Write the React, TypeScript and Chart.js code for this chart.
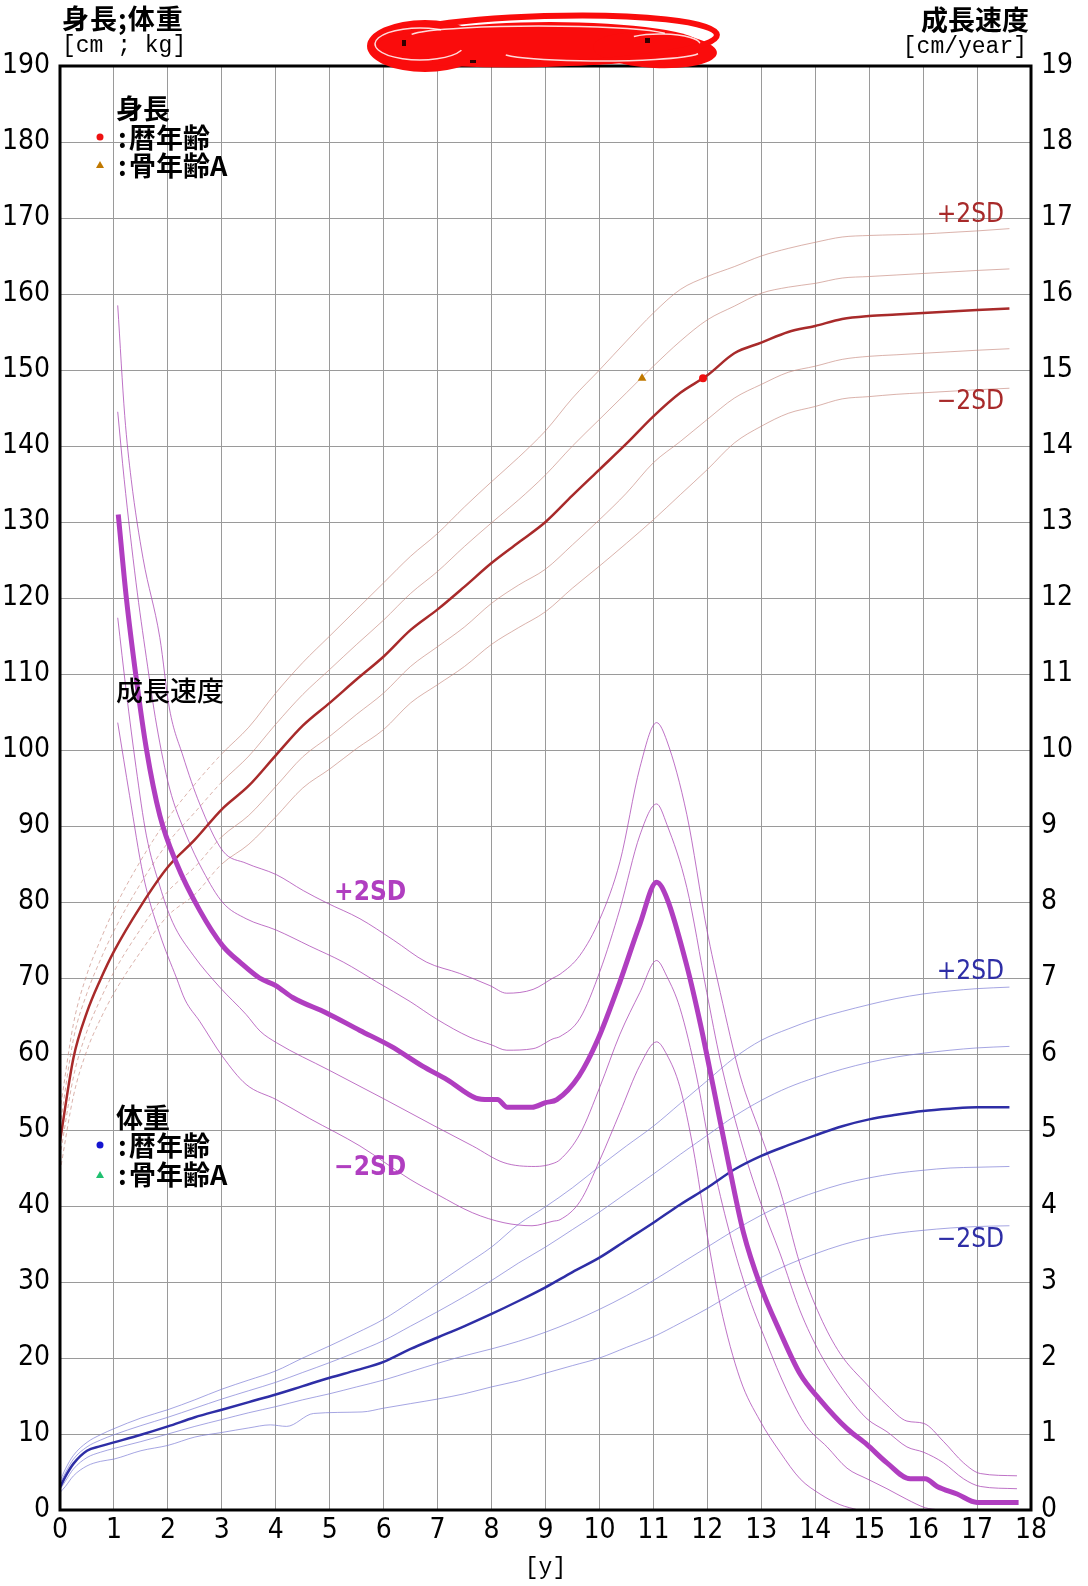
import React, { useEffect, useRef } from "react";
import { Chart, registerables } from "chart.js";

Chart.register(...registerables);

// ---------- Height (cm), left axis ----------
const hAges = [0, 0.25, 0.5, 0.75, 1, 1.5, 2, 2.5, 3, 3.5, 4, 4.5, 5, 5.5, 6, 6.5, 7, 7.5, 8, 8.5, 9, 9.5, 10, 10.5, 11, 11.5, 12, 12.5, 13, 13.5, 14, 14.5, 15, 15.5, 16, 16.5, 17, 17.6];
const hMean = [48.5, 59.5, 65.5, 69.8, 73.5, 79.5, 84.6, 88.2, 92.2, 95.3, 99.3, 103.2, 106.2, 109.3, 112.3, 115.8, 118.5, 121.5, 124.6, 127.3, 130.0, 133.5, 136.9, 140.3, 143.9, 147.0, 149.3, 152.2, 153.6, 155.0, 155.8, 156.7, 157.1, 157.3, 157.5, 157.7, 157.9, 158.1];
const hP2 = [52.5, 64, 70.5, 75, 79, 85.5, 91, 95.5, 99.5, 103, 107.5, 111.5, 115, 118.5, 122, 125.5, 128.5, 132, 135.3, 138.5, 142, 146.3, 150, 153.8, 157.5, 160.6, 162.3, 163.6, 165, 166, 166.8, 167.5, 167.7, 167.8, 167.9, 168.1, 168.3, 168.6];
const hP1 = [50.5, 62, 68, 72.4, 76.2, 82.5, 87.8, 91.8, 95.8, 99.2, 103.4, 107.3, 110.6, 113.9, 117.1, 120.6, 123.5, 126.8, 129.9, 132.9, 136.2, 140.0, 143.5, 147.0, 150.5, 153.8, 156.6, 158.4, 160.1, 160.9, 161.4, 162.1, 162.3, 162.5, 162.7, 162.9, 163.1, 163.3];
const hM1 = [46.5, 57, 63, 67.2, 70.8, 76.5, 81.4, 84.6, 88.6, 91.4, 95.2, 99.1, 101.8, 104.7, 107.5, 111, 113.6, 116.2, 119.3, 121.7, 123.8, 127, 130.3, 133.8, 137.8, 140.6, 143.5, 146.3, 148.1, 149.7, 150.5, 151.4, 151.8, 152.0, 152.2, 152.4, 152.6, 152.8];
const hM2 = [44.5, 54.5, 60.5, 64.6, 68, 73.5, 78.2, 81, 85, 87.6, 91.2, 95, 97.5, 100.2, 102.7, 106.2, 108.6, 111, 113.9, 116.1, 118.2, 121.3, 124.2, 127.2, 130.3, 133.6, 136.9, 140.4, 142.6, 144.3, 145.2, 146.2, 146.5, 146.8, 147.0, 147.2, 147.4, 147.6];

// measured points (height)
const chronoAge = [11.92];
const chronoHeight = [148.9];
const boneAge = [10.79];
const boneHeight = [148.9];

// ---------- Weight (kg), left axis ----------
const wAges = [0, 0.1, 0.25, 0.5, 0.75, 1, 1.5, 2, 2.5, 3, 3.5, 4, 4.5, 5, 5.5, 6, 6.5, 7, 7.5, 8, 8.5, 9, 9.5, 10, 10.5, 11, 11.5, 12, 12.5, 13, 13.5, 14, 14.5, 15, 15.5, 16, 16.5, 17, 17.6];
const wMean = [3.0, 4.4, 6.1, 7.8, 8.4, 8.9, 9.9, 11.0, 12.2, 13.2, 14.2, 15.2, 16.3, 17.4, 18.4, 19.5, 21.2, 22.7, 24.2, 25.8, 27.5, 29.3, 31.3, 33.2, 35.5, 37.8, 40.2, 42.4, 44.8, 46.6, 48.0, 49.3, 50.5, 51.4, 52.0, 52.5, 52.8, 53.0, 53.0];
const wP2 = [3.8, 5.4, 7.2, 8.9, 9.9, 10.7, 12.1, 13.2, 14.5, 15.9, 17.1, 18.3, 20.0, 21.6, 23.3, 25.1, 27.4, 29.8, 32.2, 34.6, 37.6, 39.9, 42.4, 45.2, 47.9, 50.5, 53.5, 56.5, 59.5, 61.8, 63.3, 64.6, 65.6, 66.5, 67.3, 67.9, 68.3, 68.6, 68.8];
const wP1 = [3.5, 4.9, 6.7, 8.3, 9.2, 9.9, 11.1, 12.2, 13.4, 14.6, 15.7, 16.8, 18.1, 19.4, 20.8, 22.3, 24.2, 26.1, 28.1, 30.2, 32.5, 34.6, 36.9, 39.2, 41.7, 44.2, 46.8, 49.3, 51.8, 53.9, 55.6, 56.9, 58.0, 58.9, 59.6, 60.1, 60.5, 60.8, 61.0];
const wM1 = [2.7, 3.8, 5.4, 6.9, 7.6, 8.1, 9.0, 10.0, 11.0, 11.9, 12.8, 13.6, 14.5, 15.3, 16.2, 17.1, 18.2, 19.3, 20.3, 21.2, 22.2, 23.4, 24.8, 26.4, 28.2, 30.2, 32.4, 34.6, 36.8, 38.8, 40.5, 41.8, 42.9, 43.7, 44.3, 44.7, 45.0, 45.1, 45.2];
const wM2Ages = [0, 0.1, 0.25, 0.5, 0.75, 1, 1.5, 2, 2.5, 3, 3.5, 3.9, 4.2, 4.7, 5.6, 6, 6.5, 7, 7.5, 8, 8.5, 9, 9.5, 10, 10.5, 11, 11.5, 12, 12.5, 13, 13.5, 14, 14.5, 15, 15.5, 16, 16.5, 17, 17.6];
const wM2 = [2.3, 3.1, 4.5, 5.8, 6.4, 6.7, 7.8, 8.5, 9.6, 10.2, 10.8, 11.2, 11.0, 12.7, 12.9, 13.4, 14.0, 14.6, 15.3, 16.2, 17.0, 18.0, 19.0, 20.0, 21.4, 22.8, 24.6, 26.5, 28.6, 30.6, 32.3, 33.7, 34.9, 35.8, 36.4, 36.8, 37.1, 37.3, 37.4];

// ---------- Growth velocity (cm/year), right axis ----------
const vMeanAges = [1.08, 1.23, 1.41, 1.6, 1.85, 2.16, 2.59, 3.02, 3.35, 3.7, 4.0, 4.32, 4.94, 5.56, 6.14, 6.72, 7.18, 7.71, 7.95, 8.11, 8.29, 8.75, 9.0, 9.21, 9.62, 9.97, 10.38, 10.75, 11.06, 11.25, 11.62, 11.87, 12.11, 12.42, 12.67, 12.98, 13.35, 13.72, 14.09, 14.59, 14.96, 15.33, 15.76, 16.04, 16.26, 16.63, 17.0, 17.77];
const vMean = [13.1, 12.0, 10.96, 10.02, 9.14, 8.51, 7.89, 7.42, 7.2, 7.0, 6.9, 6.74, 6.54, 6.31, 6.1, 5.84, 5.66, 5.42, 5.4, 5.4, 5.3, 5.3, 5.36, 5.4, 5.71, 6.19, 6.95, 7.71, 8.26, 8.05, 7.16, 6.4, 5.57, 4.47, 3.65, 2.96, 2.34, 1.79, 1.45, 1.07, 0.86, 0.62, 0.41, 0.41, 0.31, 0.21, 0.1, 0.1];
const vP2Ages = [1.07, 1.2, 1.32, 1.54, 1.85, 2.03, 2.28, 2.59, 3.02, 3.45, 4.01, 4.51, 4.94, 5.56, 6.18, 6.79, 7.41, 7.97, 8.28, 8.77, 9.14, 9.27, 9.64, 10.01, 10.38, 10.75, 11.06, 11.25, 11.62, 11.99, 12.24, 12.61, 12.98, 13.35, 13.72, 14.09, 14.46, 14.96, 15.33, 15.7, 16.01, 16.38, 16.75, 17.06, 17.74];
const vP2 = [15.85, 14.4, 13.56, 12.52, 11.48, 10.54, 9.92, 9.29, 8.67, 8.51, 8.36, 8.15, 7.99, 7.78, 7.5, 7.21, 7.06, 6.9, 6.8, 6.85, 7.0, 7.05, 7.3, 7.78, 8.53, 9.77, 10.36, 10.12, 9.15, 7.64, 6.81, 5.71, 4.96, 4.2, 3.23, 2.55, 2.06, 1.65, 1.38, 1.17, 1.14, 0.9, 0.62, 0.48, 0.45];
const vP1Ages = [1.07, 1.19, 1.41, 1.6, 1.79, 2.03, 2.34, 2.65, 3.02, 3.45, 4.01, 4.63, 5.25, 5.87, 6.49, 6.98, 7.6, 8.0, 8.28, 8.77, 9.14, 9.27, 9.64, 10.01, 10.38, 10.75, 11.06, 11.25, 11.62, 11.99, 12.24, 12.61, 12.98, 13.35, 13.72, 14.09, 14.59, 14.96, 15.33, 15.7, 16.01, 16.38, 16.75, 17.06, 17.74];
const vP1 = [14.45, 13.56, 12.2, 11.22, 10.33, 9.5, 8.88, 8.41, 7.99, 7.78, 7.63, 7.42, 7.21, 6.95, 6.69, 6.46, 6.22, 6.12, 6.05, 6.07, 6.2, 6.23, 6.47, 7.09, 7.91, 8.88, 9.29, 9.02, 8.19, 6.81, 5.92, 4.89, 4.06, 3.37, 2.62, 2.06, 1.51, 1.2, 1.03, 0.83, 0.76, 0.62, 0.41, 0.31, 0.28];
const vM1Ages = [1.07, 1.23, 1.41, 1.6, 1.85, 2.09, 2.47, 2.96, 3.45, 3.71, 4.01, 4.98, 6.03, 6.95, 7.65, 8.23, 8.81, 9.14, 9.27, 9.64, 10.01, 10.38, 10.75, 11.06, 11.25, 11.49, 11.8, 12.05, 12.36, 12.73, 13.1, 13.47, 13.84, 14.22, 14.59, 14.96, 15.33, 15.7, 16.04, 16.3];
const vM1 = [11.74, 10.76, 9.77, 8.88, 8.21, 7.73, 7.3, 6.88, 6.52, 6.3, 6.15, 5.79, 5.4, 5.05, 4.79, 4.57, 4.52, 4.56, 4.61, 4.95, 5.57, 6.26, 6.81, 7.23, 7.02, 6.61, 5.71, 4.75, 3.79, 2.89, 2.2, 1.58, 1.1, 0.83, 0.55, 0.41, 0.28, 0.14, 0.03, 0.0];
const vM2Ages = [1.07, 1.29, 1.54, 1.85, 2.16, 2.32, 2.59, 3.01, 3.45, 4.01, 4.63, 5.56, 6.49, 7.0, 7.65, 8.23, 8.75, 9.14, 9.27, 9.64, 10.01, 10.38, 10.75, 11.06, 11.25, 11.49, 11.74, 11.99, 12.24, 12.61, 12.98, 13.35, 13.72, 14.09, 14.46, 14.8];
const vM2 = [10.36, 9.4, 8.36, 7.58, 7.0, 6.71, 6.43, 5.97, 5.6, 5.4, 5.15, 4.79, 4.35, 4.15, 3.91, 3.78, 3.74, 3.8, 3.82, 4.06, 4.61, 5.23, 5.85, 6.16, 5.99, 5.57, 4.75, 3.65, 2.69, 1.72, 1.17, 0.76, 0.41, 0.21, 0.07, 0.0];

// ---------- Axes ----------
const xTickStep = 1;
const leftMax = 190;
const leftStep = 10;
const rightMax = 19;
const rightStep = 1;
const xMax = 18;

const toPts = (xs: number[], ys: number[]) => xs.map((x, i) => ({ x, y: ys[i] }));

const NUM_FONT = "'Liberation Sans Narrow', 'DejaVu Sans Condensed', 'Liberation Sans', sans-serif";
const JP_FONT = "'Noto Sans CJK JP', 'Noto Sans CJK SC', sans-serif";
const MONO_FONT = "'Liberation Mono', 'DejaVu Sans Mono', monospace";

const C_H = "#a82a2a";
const C_W = "#2e2ea6";
const C_V = "#b03ec0";

const overlayPlugin = {
  id: "overlay",
  afterDraw(chart: any) {
    const { ctx, chartArea, scales } = chart;
    const xs = scales.x;
    const yl = scales.y;
    const yr = scales.y2;
    ctx.save();
    // frame
    ctx.strokeStyle = "#000";
    ctx.lineWidth = 3;
    ctx.strokeRect(chartArea.left, chartArea.top, chartArea.right - chartArea.left, chartArea.bottom - chartArea.top);

    // redaction scribble
    ctx.fillStyle = "rgb(250,12,12)";
    ctx.beginPath();
    ctx.ellipse(425, 46, 58, 26, 0, 0, Math.PI * 2);
    ctx.fill();
    ctx.beginPath();
    ctx.ellipse(550, 44, 150, 22, 0, 0, Math.PI * 2);
    ctx.fill();
    ctx.beginPath();
    ctx.ellipse(655, 50, 62, 18, 0.05, 0, Math.PI * 2);
    ctx.fill();
    ctx.strokeStyle = "rgb(250,12,12)";
    ctx.lineWidth = 6;
    ctx.beginPath();
    ctx.ellipse(545, 40, 172, 24, -0.03, 0, Math.PI * 2);
    ctx.stroke();
    ctx.strokeStyle = "rgba(255,255,255,0.85)";
    ctx.lineWidth = 1.5;
    for (const [cx, cy, rx, ry, a0, a1] of [
      [420, 44, 45, 16, 0.4, 5.2],
      [540, 36, 130, 10, 3.3, 6.0],
      [600, 52, 100, 9, 0.2, 2.8],
      [660, 44, 40, 10, 4.0, 6.2],
    ]) {
      ctx.beginPath();
      ctx.ellipse(cx, cy, rx, ry, 0, a0, a1);
      ctx.stroke();
    }
    ctx.fillStyle = "#300";
    ctx.fillRect(402, 40, 4, 6);
    ctx.fillRect(470, 60, 6, 3);
    ctx.fillRect(645, 38, 5, 5);

    // titles
    ctx.fillStyle = "#000";
    ctx.textBaseline = "middle";
    ctx.textAlign = "left";
    ctx.font = `bold 27px ${JP_FONT}`;
    ctx.letterSpacing = "1px";
    ctx.fillText("身長;体重", 62, 19);
    ctx.letterSpacing = "0px";
    ctx.font = `23px ${MONO_FONT}`;
    ctx.fillText("[cm ; kg]", 62, 46);
    ctx.textAlign = "right";
    ctx.font = `bold 27px ${JP_FONT}`;
    ctx.fillText("成長速度", 1029, 20);
    ctx.font = `23px ${MONO_FONT}`;
    ctx.fillText("[cm/year]", 1027, 47);

    // legends inside plot
    ctx.textAlign = "left";
    const leg = (x: number, y: number, s: string) => {
      ctx.fillText(":", x + 2, y);
      ctx.fillText(s, x + 13, y);
    };
    ctx.font = `bold 27px ${JP_FONT}`;
    ctx.fillText("身長", 116, 109);
    leg(116, 138, "暦年齢");
    leg(116, 166, "骨年齢A");
    ctx.fillText("体重", 116, 1118);
    leg(116, 1146, "暦年齢");
    leg(116, 1175, "骨年齢A");
    ctx.font = `500 27px ${JP_FONT}`;
    ctx.fillText("成長速度", 116, 691);

    const dot = (x: number, y: number, c: string) => {
      ctx.fillStyle = c;
      ctx.beginPath();
      ctx.arc(x, y, 3.5, 0, Math.PI * 2);
      ctx.fill();
    };
    const tri = (x: number, y: number, c: string) => {
      ctx.fillStyle = c;
      ctx.beginPath();
      ctx.moveTo(x, y - 4);
      ctx.lineTo(x + 4, y + 3);
      ctx.lineTo(x - 4, y + 3);
      ctx.closePath();
      ctx.fill();
    };
    dot(100, 137, "#ee1111");
    tri(100, 165, "#c07800");
    dot(100, 1145, "#1515d0");
    tri(100, 1175, "#20c070");

    // SD labels
    ctx.font = `26px ${NUM_FONT}`;
    ctx.textAlign = "right";
    ctx.fillStyle = C_H;
    ctx.fillText("+2SD", xs.getPixelForValue(17.5), yl.getPixelForValue(170.4));
    ctx.fillText("−2SD", xs.getPixelForValue(17.5), yl.getPixelForValue(145.7));
    ctx.fillStyle = C_W;
    ctx.fillText("+2SD", xs.getPixelForValue(17.5), yl.getPixelForValue(70.7));
    ctx.fillText("−2SD", xs.getPixelForValue(17.5), yl.getPixelForValue(35.5));
    ctx.textAlign = "left";
    ctx.fillStyle = C_V;
    ctx.font = `bold 26px ${NUM_FONT}`;
    ctx.fillText("+2SD", xs.getPixelForValue(5.08), yr.getPixelForValue(8.12));
    ctx.fillText("−2SD", xs.getPixelForValue(5.08), yr.getPixelForValue(4.5));
    ctx.restore();
  },
};

const thin = (label: string, data: any[], color: string, axis: string, extra: any = {}) => ({
  label,
  data,
  yAxisID: axis,
  borderColor: color,
  borderWidth: 0.9,
  pointRadius: 0,
  fill: false,
  cubicInterpolationMode: "monotone",
  ...extra,
});

export default function App() {
  const ref = useRef<HTMLCanvasElement | null>(null);
  useEffect(() => {
    if (!ref.current) return;
    const dashEarly = { segment: { borderDash: (c: any) => (c.p0.parsed.x < 3 ? [4, 3] : undefined) } };
    const hSD = "rgba(200,140,130,0.75)";
    const wSD = "rgba(130,130,215,0.8)";
    const vSD = "rgba(170,70,180,0.85)";
    const chart = new Chart(ref.current, {
      type: "line",
      data: {
        datasets: [
          {
            label: "暦年齢",
            data: toPts(chronoAge, chronoHeight),
            yAxisID: "y",
            showLine: false,
            pointRadius: 4,
            pointStyle: "circle",
            pointBackgroundColor: "#ee1111",
            pointBorderWidth: 0,
            borderColor: "#ee1111",
          } as any,
          {
            label: "骨年齢A",
            data: toPts(boneAge, boneHeight),
            yAxisID: "y",
            showLine: false,
            pointRadius: 5,
            pointStyle: "triangle",
            pointBackgroundColor: "#c07800",
            pointBorderWidth: 0,
            borderColor: "#c07800",
          } as any,
          { ...thin("成長速度", toPts(vMeanAges, vMean), C_V, "y2"), borderWidth: 5 },
          { ...thin("身長", toPts(hAges, hMean), C_H, "y"), borderWidth: 2.5 },
          { ...thin("体重", toPts(wAges, wMean), C_W, "y"), borderWidth: 2.5 },
          thin("v+2SD", toPts(vP2Ages, vP2), vSD, "y2"),
          thin("v+1SD", toPts(vP1Ages, vP1), vSD, "y2"),
          thin("v-1SD", toPts(vM1Ages, vM1), vSD, "y2"),
          thin("v-2SD", toPts(vM2Ages, vM2), vSD, "y2"),
          thin("h+2SD", toPts(hAges, hP2), hSD, "y", dashEarly),
          thin("h+1SD", toPts(hAges, hP1), hSD, "y", dashEarly),
          thin("h-1SD", toPts(hAges, hM1), hSD, "y", dashEarly),
          thin("h-2SD", toPts(hAges, hM2), hSD, "y", dashEarly),
          thin("w+2SD", toPts(wAges, wP2), wSD, "y"),
          thin("w+1SD", toPts(wAges, wP1), wSD, "y"),
          thin("w-1SD", toPts(wAges, wM1), wSD, "y"),
          thin("w-2SD", toPts(wM2Ages, wM2), wSD, "y"),
        ] as any,
      },
      options: {
        animation: false,
        responsive: false,
        maintainAspectRatio: false,
        layout: { padding: { top: 66, left: 0, right: 0, bottom: 0 } },
        plugins: { legend: { display: false }, tooltip: { enabled: false } },
        scales: {
          x: {
            type: "linear",
            min: 0,
            max: xMax,
            ticks: { stepSize: xTickStep, color: "#000", font: { family: NUM_FONT, size: 28 }, padding: 4, maxRotation: 0, autoSkip: false },
            grid: { color: "#9a9a9a", lineWidth: 1, drawTicks: false },
            border: { display: false },
            title: { display: true, text: "[y]", color: "#000", font: { family: MONO_FONT, size: 23 }, padding: { top: 0, bottom: 4 } },
            afterFit: (s: any) => {
              s.height = 76;
            },
          },
          y: {
            position: "left",
            min: 0,
            max: leftMax,
            ticks: { stepSize: leftStep, color: "#000", font: { family: NUM_FONT, size: 28 }, padding: 10 },
            grid: { color: "#9a9a9a", lineWidth: 1, drawTicks: false },
            border: { display: false },
            afterFit: (s: any) => {
              s.width = 60;
            },
          },
          y2: {
            position: "right",
            min: 0,
            max: rightMax,
            ticks: { stepSize: rightStep, color: "#000", font: { family: NUM_FONT, size: 28 }, padding: 10 },
            grid: { display: false, drawTicks: false },
            border: { display: false },
            afterFit: (s: any) => {
              s.width = 57;
            },
          },
        },
      } as any,
      plugins: [overlayPlugin],
    });
    return () => chart.destroy();
  }, []);
  return (
    <div style={{ position: "absolute", left: 0, top: 0, width: 1088, height: 1586, background: "#fff" }}>
      <canvas ref={ref} width={1088} height={1586} style={{ width: 1088, height: 1586, display: "block" }} />
    </div>
  );
}
